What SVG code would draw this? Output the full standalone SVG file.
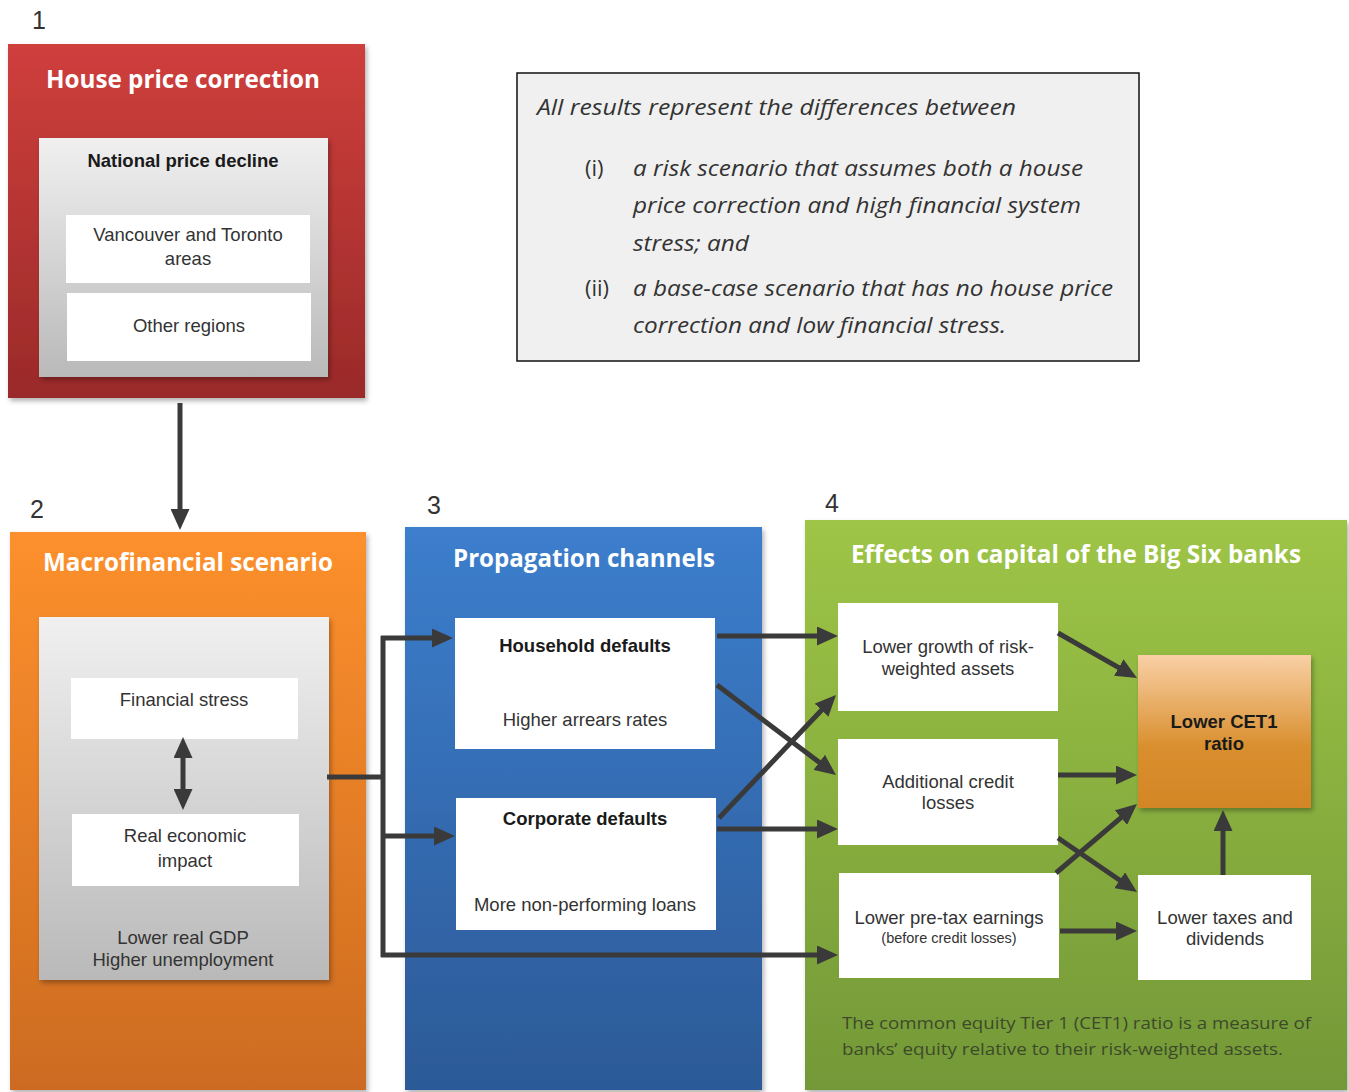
<svg xmlns="http://www.w3.org/2000/svg" width="1349" height="1092" viewBox="0 0 1349 1092">
<defs>
<linearGradient id="gRed" x1="0" y1="0" x2="0" y2="1"><stop offset="0" stop-color="#cf3f3c"/><stop offset="1" stop-color="#9a2a29"/></linearGradient>
<linearGradient id="gOrange" x1="0" y1="0" x2="0" y2="1"><stop offset="0" stop-color="#fd902d"/><stop offset="1" stop-color="#cc6b20"/></linearGradient>
<linearGradient id="gBlue" x1="0" y1="0" x2="0" y2="1"><stop offset="0" stop-color="#3c7ecd"/><stop offset="1" stop-color="#2c5a97"/></linearGradient>
<linearGradient id="gGreen" x1="0" y1="0" x2="0" y2="1"><stop offset="0" stop-color="#9ec546"/><stop offset="1" stop-color="#739838"/></linearGradient>
<linearGradient id="gGrey" x1="0" y1="0" x2="0" y2="1"><stop offset="0" stop-color="#f0f0f0"/><stop offset="1" stop-color="#b9b9b9"/></linearGradient>
<linearGradient id="gCet" x1="0" y1="0" x2="0" y2="1"><stop offset="0" stop-color="#f9d0a6"/><stop offset="0.6" stop-color="#d98f2e"/><stop offset="1" stop-color="#d48626"/></linearGradient>
<filter id="sh" x="-5%" y="-5%" width="112%" height="112%"><feDropShadow dx="2" dy="3" stdDeviation="2.5" flood-color="#000" flood-opacity="0.3"/></filter>
<marker id="ah" viewBox="0 0 21 19" refX="2" refY="9.5" markerWidth="21" markerHeight="19" markerUnits="userSpaceOnUse" orient="auto-start-reverse"><path d="M0,0 L21,9.5 L0,19 z" fill="#3a3a3a"/></marker>
</defs>
<style>
.num{font-family:"Liberation Sans",Arial,sans-serif;font-size:25px;fill:#333}
.title{font-family:"Open Sans",sans-serif;font-weight:bold;font-size:25px;fill:#fff;text-anchor:middle}
.t{font-family:"Liberation Sans",Arial,sans-serif;font-size:18.5px;fill:#333;text-anchor:middle}
.tb{font-family:"Liberation Sans",Arial,sans-serif;font-size:18.5px;font-weight:bold;fill:#1a1a1a;text-anchor:middle}
.ts{font-family:"Liberation Sans",Arial,sans-serif;font-size:14.5px;fill:#333;text-anchor:middle}
.note{font-family:"Open Sans",sans-serif;font-style:italic;font-size:22px;fill:#333}
.noten{font-family:"Open Sans",sans-serif;font-size:22px;fill:#333}
.foot{font-family:"Open Sans",sans-serif;font-size:17px;fill:#3d4a2a}
.wbox{fill:#fff}
.c{stroke:#3a3a3a;stroke-width:5;fill:none}
.a{stroke:#3a3a3a;stroke-width:5;fill:none;marker-end:url(#ah)}
</style>

<g id="labels">
<text class="num" x="32" y="29">1</text>
<text class="num" x="30" y="518">2</text>
<text class="num" x="427" y="514">3</text>
<text class="num" x="825" y="512">4</text>
</g>

<g id="house-price-correction">
<rect x="8" y="44" width="357" height="354" fill="url(#gRed)" filter="url(#sh)"/>
<text class="title" x="183" y="88" textLength="274" lengthAdjust="spacingAndGlyphs">House price correction</text>
<rect x="39" y="138" width="289" height="239" fill="url(#gGrey)" filter="url(#sh)"/>
<text class="tb" x="183" y="167">National price decline</text>
<rect class="wbox" x="66" y="215" width="244" height="68"/>
<text class="t" x="188" y="241">Vancouver and Toronto</text>
<text class="t" x="188" y="265">areas</text>
<rect class="wbox" x="67" y="293" width="244" height="68"/>
<text class="t" x="189" y="332">Other regions</text>
</g>

<g id="note">
<rect x="517" y="73" width="622" height="288" fill="#f0f0f0" stroke="#111" stroke-width="1.5"/>
<text class="note" x="537" y="115" textLength="479" lengthAdjust="spacingAndGlyphs">All results represent the differences between</text>
<text class="noten" x="585" y="176">(i)</text>
<text class="note" x="633" y="176" textLength="450" lengthAdjust="spacingAndGlyphs">a risk scenario that assumes both a house</text>
<text class="note" x="633" y="213" textLength="448" lengthAdjust="spacingAndGlyphs">price correction and high financial system</text>
<text class="note" x="633" y="251" textLength="116" lengthAdjust="spacingAndGlyphs">stress; and</text>
<text class="noten" x="585" y="296">(ii)</text>
<text class="note" x="633" y="296" textLength="480" lengthAdjust="spacingAndGlyphs">a base-case scenario that has no house price</text>
<text class="note" x="633" y="333" textLength="373" lengthAdjust="spacingAndGlyphs">correction and low financial stress.</text>
</g>

<g id="macrofinancial-scenario">
<rect x="10" y="532" width="356" height="558" fill="url(#gOrange)" filter="url(#sh)"/>
<text class="title" x="188" y="571" textLength="290" lengthAdjust="spacingAndGlyphs">Macrofinancial scenario</text>
<rect x="39" y="617" width="290" height="363" fill="url(#gGrey)" filter="url(#sh)"/>
<rect class="wbox" x="71" y="678" width="227" height="61"/>
<text class="t" x="184" y="706">Financial stress</text>
<rect class="wbox" x="72" y="814" width="227" height="72"/>
<text class="t" x="185" y="842">Real economic</text>
<text class="t" x="185" y="867">impact</text>
<text class="t" x="183" y="944" fill="#444">Lower real GDP</text>
<text class="t" x="183" y="966" fill="#444">Higher unemployment</text>
</g>

<g id="propagation-channels">
<rect x="405" y="527" width="357" height="563" fill="url(#gBlue)" filter="url(#sh)"/>
<text class="title" x="584" y="567" textLength="262" lengthAdjust="spacingAndGlyphs">Propagation channels</text>
<rect class="wbox" x="455" y="618" width="260" height="131"/>
<text class="tb" x="585" y="652">Household defaults</text>
<text class="t" x="585" y="726">Higher arrears rates</text>
<rect class="wbox" x="456" y="798" width="260" height="132"/>
<text class="tb" x="585" y="825">Corporate defaults</text>
<text class="t" x="585" y="911">More non-performing loans</text>
</g>

<g id="effects-on-capital">
<rect x="805" y="520" width="542" height="570" fill="url(#gGreen)" filter="url(#sh)"/>
<text class="title" x="1076" y="563" textLength="450" lengthAdjust="spacingAndGlyphs">Effects on capital of the Big Six banks</text>
<rect class="wbox" x="838" y="603" width="220" height="108"/>
<text class="t" x="948" y="653">Lower growth of risk-</text>
<text class="t" x="948" y="675">weighted assets</text>
<rect class="wbox" x="838" y="739" width="220" height="106"/>
<text class="t" x="948" y="788">Additional credit</text>
<text class="t" x="948" y="809">losses</text>
<rect class="wbox" x="839" y="873" width="220" height="105"/>
<text class="t" x="949" y="924">Lower pre-tax earnings</text>
<text class="ts" x="949" y="943">(before credit losses)</text>
<rect x="1138" y="655" width="173" height="153" fill="url(#gCet)" filter="url(#sh)"/>
<text class="tb" x="1224" y="728" fill="#3a3020">Lower CET1</text>
<text class="tb" x="1224" y="750" fill="#3a3020">ratio</text>
<rect class="wbox" x="1138" y="875" width="173" height="105"/>
<text class="t" x="1225" y="924">Lower taxes and</text>
<text class="t" x="1225" y="945">dividends</text>
<text class="foot" x="842" y="1029" textLength="469" lengthAdjust="spacingAndGlyphs">The common equity Tier 1 (CET1) ratio is a measure of</text>
<text class="foot" x="842" y="1055" textLength="441" lengthAdjust="spacingAndGlyphs">banks’ equity relative to their risk-weighted assets.</text>
</g>

<g id="connectors">
<line class="a" x1="180" y1="403" x2="180" y2="511"/>
<line class="a" x1="183" y1="756" x2="183" y2="791" style="marker-start:url(#ah)"/>
<path class="c" d="M327,777 H383 M383,636 V957"/>
<line class="a" x1="381" y1="638" x2="434" y2="638"/>
<line class="a" x1="383" y1="836" x2="436" y2="836"/>
<line class="a" x1="381" y1="955" x2="819" y2="955"/>
<line class="a" x1="717" y1="636" x2="819" y2="636"/>
<line class="a" x1="717" y1="829" x2="819" y2="829"/>
<line class="a" x1="717" y1="685" x2="820.8" y2="763.5"/>
<line class="a" x1="719" y1="818" x2="822.9" y2="708.8"/>
<line class="a" x1="1058" y1="633" x2="1120.5" y2="668.6"/>
<line class="a" x1="1058" y1="775" x2="1118" y2="775"/>
<line class="a" x1="1056" y1="873" x2="1122.5" y2="816.3"/>
<line class="a" x1="1058" y1="838" x2="1121.3" y2="881.3"/>
<line class="a" x1="1060" y1="931" x2="1118" y2="931"/>
<line class="a" x1="1223" y1="875" x2="1223" y2="829"/>
</g>
</svg>
